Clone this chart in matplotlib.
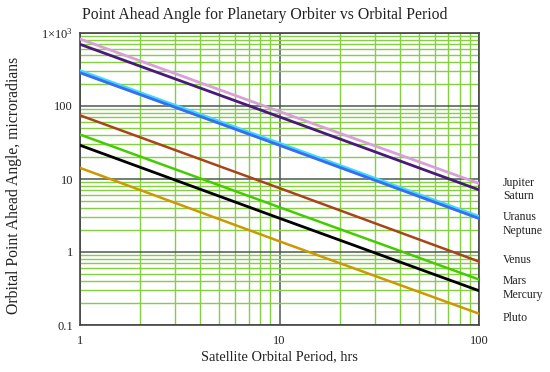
import matplotlib
matplotlib.use("Agg")
import matplotlib.pyplot as plt
from matplotlib.ticker import FixedLocator, FixedFormatter, LogLocator, NullFormatter

# Data
periods = [1, 10, 100]  # hrs
series_names = ["Jupiter", "Saturn", "Neptune", "Uranus", "Venus", "Mars", "Mercury", "Pluto"]
jupiter = [828, 84, 8.7]
saturn = [700, 71, 7.1]
neptune = [296, 30, 2.98]
uranus = [286, 29, 2.88]
venus = [74.5, 7.5, 0.74]
mars = [40.6, 4.1, 0.42]
mercury = [29, 2.9, 0.295]
pluto = [14.2, 1.4, 0.143]

label_names = ["Jupiter", "Saturn", "Uranus", "Neptune", "Venus", "Mars", "Mercury", "Pluto"]
label_y = [183, 196, 217, 231, 260, 281, 295, 318]  # pixel rows of the right-side labels

y_ticks = [0.1, 1, 10, 100, 1000]
y_ticklabels = ["0.1", "1", "10", "100", r"$1{\times}10^{3}$"]
x_ticks = [1, 10, 100]
x_ticklabels = ["1", "10", "100"]

plt.rcParams["font.family"] = ["Liberation Serif", "DejaVu Serif"]
plt.rcParams["mathtext.fontset"] = "custom"
plt.rcParams["mathtext.rm"] = "Liberation Serif"
plt.rcParams["mathtext.it"] = "Liberation Serif:italic"

W, H = 550, 372
fig = plt.figure(figsize=(W / 100, H / 100), dpi=100)
ax = fig.add_axes([80 / W, 1 - 325 / H, (479 - 80) / W, (325 - 33) / H])

ax.set_xscale("log")
ax.set_yscale("log")
ax.set_xlim(1, 100)
ax.set_ylim(0.1, 1000)

# grid
ax.xaxis.set_minor_locator(LogLocator(base=10, subs=range(2, 10)))
ax.yaxis.set_minor_locator(LogLocator(base=10, subs=range(2, 10)))
ax.xaxis.set_minor_formatter(NullFormatter())
ax.yaxis.set_minor_formatter(NullFormatter())
ax.grid(True, which="minor", color="#84d040", lw=1.0, zorder=0)
ax.grid(True, which="major", color="#4a5a50", lw=1.1, zorder=1)

ax.xaxis.set_major_locator(FixedLocator(x_ticks))
ax.xaxis.set_major_formatter(FixedFormatter(x_ticklabels))
ax.yaxis.set_major_locator(FixedLocator(y_ticks))
ax.yaxis.set_major_formatter(FixedFormatter(y_ticklabels))
ax.tick_params(which="both", length=0, labelsize=9, colors="#222222", pad=5)
ax.tick_params(axis="x", pad=7)

for s in ax.spines.values():
    s.set_color("#444444")
    s.set_linewidth(1.2)

ax.plot(periods, jupiter, color="#d8a0d8", lw=2.0, zorder=3)
ax.plot(periods, saturn, color="#4a1a78", lw=2.0, zorder=3)
ax.plot(periods, neptune, color="#40d8ff", lw=3.3, zorder=3)
ax.plot(periods, uranus, color="#3b6cf0", lw=2.0, zorder=4)
ax.plot(periods, venus, color="#a8441c", lw=1.8, zorder=3)
ax.plot(periods, mars, color="#44cc00", lw=1.8, zorder=3)
ax.plot(periods, mercury, color="#000000", lw=2.0, zorder=3)
ax.plot(periods, pluto, color="#cc9900", lw=1.8, zorder=3)

for name, yp in zip(label_names, label_y):
    fig.text(503 / W, 1 - yp / H, name, fontsize=8.5, ha="left", va="center", color="#222222")

fig.text(265 / W, 1 - 15 / H, "Point Ahead Angle for Planetary Orbiter vs Orbital Period",
         fontsize=11.3, ha="center", va="center", color="#222222")
fig.text(279 / W, 1 - 357 / H, "Satellite Orbital Period, hrs",
         fontsize=10.4, ha="center", va="center", color="#222222")
fig.text(14 / W, 1 - 185 / H, "Orbital Point Ahead Angle, microradians",
         fontsize=11.3, ha="center", va="center", rotation=90, color="#222222")

fig.savefig("out.png", dpi=100, facecolor="white")
